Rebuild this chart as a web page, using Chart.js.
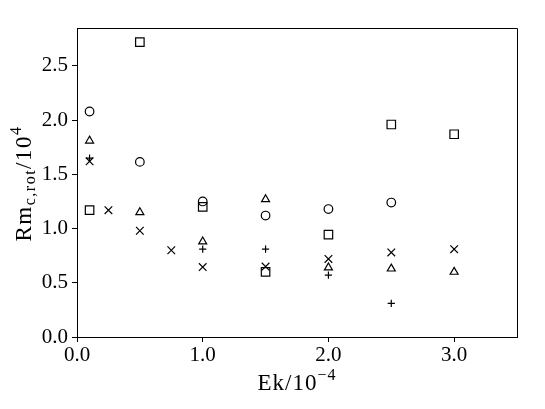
<!DOCTYPE html>
<html>
<head>
<meta charset="utf-8">
<script src="https://cdn.jsdelivr.net/npm/chart.js@4"></script>
<style>
  html, body { margin: 0; padding: 0; background: #fff; }
  canvas { display: block; }
</style>
</head>
<body>
<canvas id="myChart" width="545" height="409"></canvas>
<script>
// values, Ek in units of 1e-4, Rm in units of 1e4
const squaresEk = [0.1, 0.5, 1.0, 1.5, 2.0, 2.5, 3.0]
const squaresRm = [1.17, 2.72, 1.20, 0.60, 0.945, 1.96, 1.87]

const circlesEk = [0.1, 0.5, 1.0, 1.5, 2.0, 2.5]
const circlesRm = [2.08, 1.615, 1.25, 1.12, 1.18, 1.24]

const trianglesEk = [0.1, 0.5, 1.0, 1.5, 2.0, 2.5, 3.0]
const trianglesRm = [1.81, 1.15, 0.88, 1.27, 0.64, 0.63, 0.60]

const crossesEk = [0.1, 0.25, 0.5, 0.75, 1.0, 1.5, 2.0, 2.5, 3.0]
const crossesRm = [1.62, 1.17, 0.98, 0.80, 0.645, 0.65, 0.72, 0.78, 0.81]

const plusEk = [0.1, 1.0, 1.5, 2.0, 2.5]
const plusRm = [1.65, 0.81, 0.81, 0.57, 0.31]

const xTicks = [0, 1, 2, 3]
const yTicks = [0, 0.5, 1.0, 1.5, 2.0, 2.5]

const FONT = "'Liberation Serif', 'DejaVu Serif', serif"

function toPoints(xs, ys) {
  return xs.map((x, i) => ({ x: x, y: ys[i] }))
}

function markerSet(label, xs, ys, style, radius) {
  return {
    label: label,
    data: toPoints(xs, ys),
    pointStyle: style,
    pointRadius: radius,
    pointHoverRadius: radius,
    pointBorderWidth: 1.2,
    pointBorderColor: '#000',
    pointBackgroundColor: 'rgba(0,0,0,0)',
    borderColor: '#000',
    backgroundColor: 'rgba(0,0,0,0)',
    showLine: false
  }
}

// writes a list of [text, font, yShift] pieces, centred on x=0, and returns nothing
function drawPieces(c, parts) {
  let total = 0
  parts.forEach(p => { c.font = p[1]; total += c.measureText(p[0]).width })
  let px = -total / 2
  parts.forEach(p => {
    c.font = p[1]
    c.fillText(p[0], px, p[2])
    px += c.measureText(p[0]).width
  })
}

// draws the frame on top and right, plus the axis titles with sub/superscripts
const frameAndTitles = {
  id: 'frameAndTitles',
  afterDraw(chart) {
    const c = chart.ctx
    const a = chart.chartArea
    c.save()
    c.strokeStyle = '#000'
    c.lineWidth = 1
    c.beginPath()
    c.moveTo(a.left, a.top + 0.5)
    c.lineTo(a.right + 0.5, a.top + 0.5)
    c.lineTo(a.right + 0.5, a.bottom)
    c.stroke()

    c.fillStyle = '#000'
    c.textBaseline = 'alphabetic'
    c.textAlign = 'left'
    c.letterSpacing = '1px'
    const big = '23px ' + FONT
    const small = '16px ' + FONT

    // x title: Ek/10^-4
    c.save()
    c.translate((a.left + a.right) / 2, 390)
    drawPieces(c, [
      ['Ek/10', big, 0],
      ['\u22124', small, -10]
    ])
    c.restore()

    // y title: Rm_{c,rot}/10^4, rotated
    c.letterSpacing = '1.5px'
    c.translate(31, (a.top + a.bottom) / 2 + 1)
    c.rotate(-Math.PI / 2)
    drawPieces(c, [
      ['Rm', big, 0],
      ['c,rot', small, 4],
      ['/10', big, 0],
      ['4', small, -10]
    ])
    c.restore()
  }
}

const ctx = document.getElementById('myChart')
const myChart = new Chart(ctx, {
  type: 'scatter',
  data: {
    datasets: [
      markerSet('squares', squaresEk, squaresRm, 'rect', 6),
      markerSet('circles', circlesEk, circlesRm, 'circle', 4.3),
      markerSet('triangles', trianglesEk, trianglesRm, 'triangle', 4.6),
      markerSet('crosses', crossesEk, crossesRm, 'crossRot', 5.4),
      markerSet('plus', plusEk, plusRm, 'cross', 3.6)
    ]
  },
  options: {
    responsive: false,
    animation: false,
    layout: {
      padding: { top: 28, right: 28, left: 0, bottom: 0 }
    },
    scales: {
      x: {
        type: 'linear',
        min: 0,
        max: 3.5,
        afterBuildTicks: function(scale) {
          scale.ticks = xTicks.map(v => ({ value: v }))
        },
        afterFit: function(scale) {
          scale.height = 72
        },
        grid: {
          drawOnChartArea: false,
          drawTicks: true,
          tickLength: 5,
          tickColor: '#000',
          tickWidth: 1
        },
        border: { display: true, color: '#000', width: 1 },
        ticks: {
          color: '#000',
          padding: 1,
          maxRotation: 0,
          font: { family: FONT, size: 21 },
          callback: function(v) { return Number(v).toFixed(1) }
        }
      },
      y: {
        type: 'linear',
        min: 0,
        max: 2.85,
        afterBuildTicks: function(scale) {
          scale.ticks = yTicks.map(v => ({ value: v }))
        },
        afterFit: function(scale) {
          scale.width = 77
        },
        grid: {
          drawOnChartArea: false,
          drawTicks: true,
          tickLength: 5,
          tickColor: '#000',
          tickWidth: 1
        },
        border: { display: true, color: '#000', width: 1 },
        ticks: {
          color: '#000',
          padding: 4,
          font: { family: FONT, size: 21 },
          callback: function(v) { return Number(v).toFixed(1) }
        }
      }
    },
    plugins: {
      legend: { display: false },
      tooltip: { enabled: false }
    }
  },
  plugins: [frameAndTitles]
})
</script>
</body>
</html>
